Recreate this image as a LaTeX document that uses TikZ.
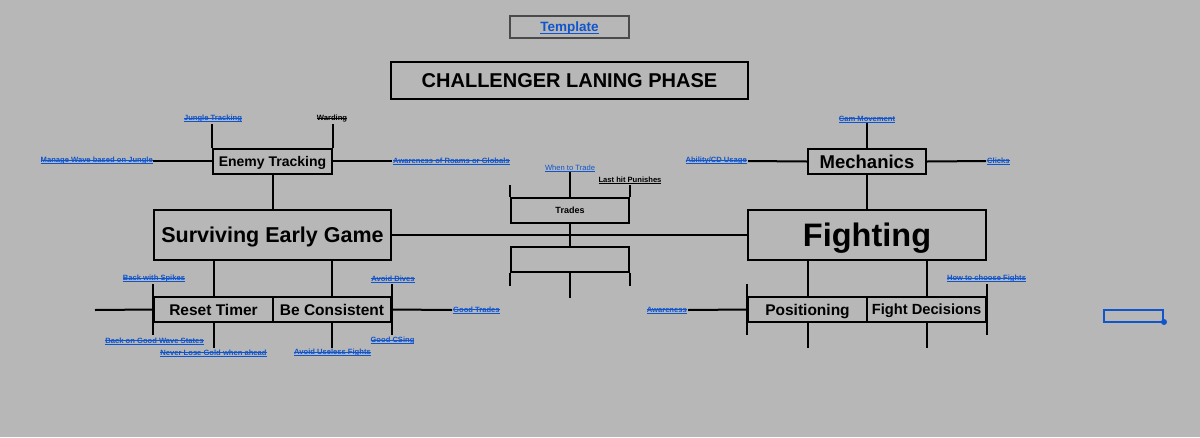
\documentclass[tikz,border=0pt]{standalone}
\usepackage{fontspec}
\setmainfont{Liberation Sans}
\definecolor{bg}{HTML}{B7B7B7}
\definecolor{lnk}{HTML}{1155CC}
\definecolor{tbox}{HTML}{4A4A4A}
\newcommand\ulst[1]{\setbox0\hbox{#1}\rlap{\rule[-0.14em]{\wd0}{0.08em}}\rlap{\rule[0.3em]{\wd0}{0.08em}}\box0}
\newcommand\ulonly[1]{\setbox0\hbox{#1}\rlap{\rule[-0.14em]{\wd0}{0.08em}}\box0}
\newcommand\stonly[1]{\setbox0\hbox{#1}\rlap{\rule[0.3em]{\wd0}{0.08em}}\box0}
\tikzset{
  boxn/.style={draw, line width=2pt, inner sep=0pt, text depth=0pt, font=\bfseries},
  conn/.style={line width=2pt},
  lk/.style={inner sep=0pt, text=lnk, font=\fontsize{7.6}{9}\selectfont\bfseries},
  lkb/.style={inner sep=0pt, text=black, font=\fontsize{7.6}{9}\selectfont\bfseries},
}
\begin{document}
\begin{tikzpicture}[x=1pt,y=-1pt]
\fill[bg] (0,0) rectangle (1200,437);
\useasboundingbox (0,0) rectangle (1200,437);

% header
\node[draw=tbox, line width=2pt, minimum width=119, minimum height=22, inner sep=0pt, text depth=0pt, text=lnk, font=\fontsize{13.5}{15}\selectfont\bfseries] (tpl) at (569.5,27) {\ulonly{Template}};
\node[boxn, minimum width=357, minimum height=37, font=\fontsize{20}{22}\selectfont\bfseries] (title) at (569.5,80.5) {CHALLENGER LANING PHASE};

% left tree
\node[boxn, minimum width=119, minimum height=25, font=\fontsize{14}{16}\selectfont\bfseries] (et) at (272.5,161) {Enemy Tracking};
\node[boxn, minimum width=237, minimum height=50, font=\fontsize{21.5}{24}\selectfont\bfseries] (seg) at (272.5,235) {Surviving Early Game};
\node[boxn, minimum width=119, minimum height=25, font=\fontsize{15.5}{17}\selectfont\bfseries] (rt) at (213.5,309.5) {Reset Timer};
\node[boxn, minimum width=118, minimum height=25, font=\fontsize{15.5}{17}\selectfont\bfseries] (bc) at (332,309.5) {Be Consistent};

% middle
\node[boxn, minimum width=118, minimum height=25, font=\fontsize{9}{11}\selectfont\bfseries] (tr) at (570,210.5) {Trades};
\node[boxn, minimum width=118, minimum height=25] (emp) at (570,259.5) {};

% right tree
\node[boxn, minimum width=118, minimum height=25, font=\fontsize{18.5}{20}\selectfont\bfseries] (mech) at (867,161.5) {Mechanics};
\node[boxn, minimum width=238, minimum height=50, font=\fontsize{32.5}{35}\selectfont\bfseries] (fight) at (867,235) {Fighting};
\node[boxn, minimum width=119, minimum height=25, font=\fontsize{15.5}{17}\selectfont\bfseries] (pos) at (807.5,309.5) {Positioning};
\node[boxn, minimum width=119, minimum height=25, font=\fontsize{14.7}{17}\selectfont\bfseries] (fd) at (926.5,309.5) {Fight Decisions};

% labels
\node[lk] (jt) at (213,119) {\ulst{Jungle Tracking}};
\node[lkb] (wd) at (332,119) {\stonly{Warding}};
\node[lk, anchor=east] (mw) at (153,161) {\ulst{Manage Wave based on Jungle}};
\node[lk, anchor=west] (ar) at (393,161) {\ulst{Awareness of Roams or Globals}};
\node[lk] (bws) at (154,279) {\ulst{Back with Spikes}};
\node[lk] (ad) at (393,279) {\ulst{Avoid Dives}};
\node[lk] (bgw) at (154.5,341) {\ulst{Back on Good Wave States}};
\node[lk] (gcs) at (392.5,341) {\ulst{Good CSing}};
\node[lk] (nlg) at (213.5,353) {\ulst{Never Lose Gold when ahead}};
\node[lk] (auf) at (332.5,353) {\ulst{Avoid Useless Fights}};
\node[lk, anchor=west] (gt) at (453,310) {\ulst{Good Trades}};
\node[lk, font=\fontsize{7.6}{9}\selectfont] (wtt) at (570,168) {\ulonly{When to Trade}};
\node[lkb] (lhp) at (630,180) {\ulonly{Last hit Punishes}};
\node[lk] (cm) at (867,119) {\ulst{Cam Movement}};
\node[lk, anchor=east] (acd) at (747,161) {\ulst{Ability/CD Usage}};
\node[lk, anchor=west] (clk) at (987,161) {\ulst{Clicks}};
\node[lk, anchor=east] (aw) at (687,310) {\ulst{Awareness}};
\node[lk] (htc) at (986.5,279) {\ulst{How to choose Fights}};

% coordinates for free ends
\coordinate (etL) at (153,161);
\coordinate (etR) at (392,161);
\coordinate (rtL) at (95,310);
\coordinate (bcR) at (452,310);
\coordinate (mL) at (748,161);
\coordinate (mR) at (986,161);
\coordinate (pL) at (688,310);

% connectors left
\draw[conn] (et.north west) -- ++(0,-24);
\draw[conn] (et.north east) -- ++(0,-24);
\draw[conn] (et.west) -- (etL);
\draw[conn] (et.east) -- (etR);
\draw[conn] (et.south) -- (seg.north);
\draw[conn] (seg.east) -- (fight.west);
\draw[conn] (rt.north) -- (rt.north |- seg.south);
\draw[conn] (bc.north) -- (bc.north |- seg.south);
\draw[conn] ([yshift=12pt]rt.north west) -- ([yshift=-12pt]rt.south west);
\draw[conn] ([yshift=12pt]bc.north east) -- ([yshift=-12pt]bc.south east);
\draw[conn] (rt.south) -- ++(0,25);
\draw[conn] (bc.south) -- ++(0,25);
\draw[conn] (rt.west) -- (rtL);
\draw[conn] (bc.east) -- (bcR);

% connectors middle
\draw[conn] ([yshift=12pt]tr.north west) -- (tr.north west);
\draw[conn] ([yshift=12pt]tr.north east) -- (tr.north east);
\draw[conn] (tr.north) -- ++(0,-25);
\draw[conn] (tr.south) -- (emp.north);
\draw[conn] (emp.south west) -- ++(0,13);
\draw[conn] (emp.south east) -- ++(0,13);
\draw[conn] (emp.south) -- ++(0,25);

% connectors right
\draw[conn] (mech.north) -- ++(0,-25);
\draw[conn] (mech.west) -- (mL);
\draw[conn] (mech.east) -- (mR);
\draw[conn] (mech.south) -- (fight.north);
\draw[conn] (pos.north) -- (pos.north |- fight.south);
\draw[conn] (fd.north) -- (fd.north |- fight.south);
\draw[conn] ([yshift=12pt]pos.north west) -- ([yshift=-12pt]pos.south west);
\draw[conn] ([yshift=12pt]fd.north east) -- ([yshift=-12pt]fd.south east);
\draw[conn] (pos.south) -- ++(0,25);
\draw[conn] (fd.south) -- ++(0,25);
\draw[conn] (pos.west) -- (pL);

% selection marker
\draw[lnk, line width=1.5pt] (1104,310) rectangle (1163,322);
\fill[lnk] (1164,322) circle (3);
\end{tikzpicture}
\end{document}
